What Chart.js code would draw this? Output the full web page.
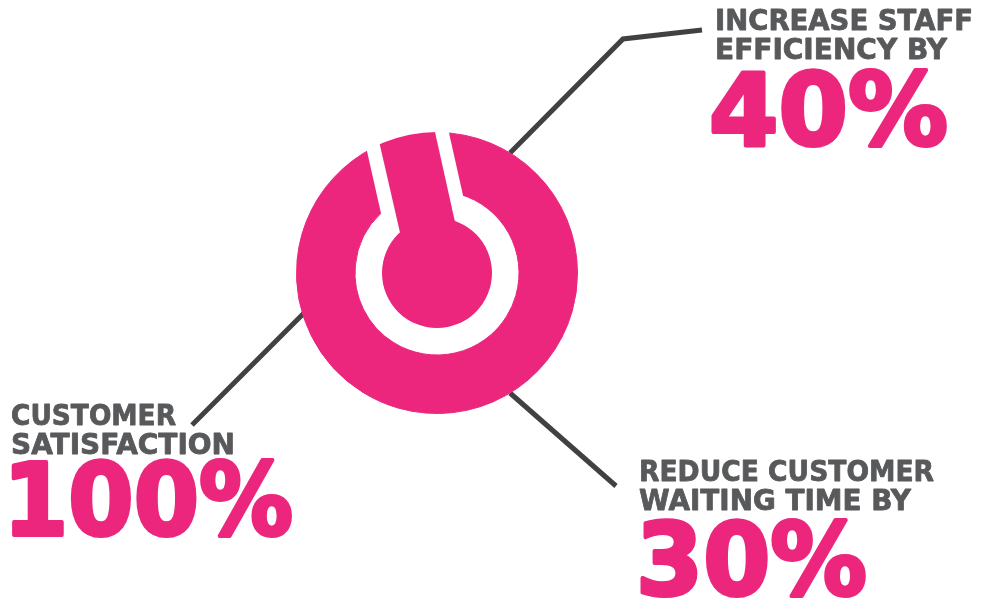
<!DOCTYPE html>
<html><head><meta charset="utf-8">
<style>html,body{margin:0;padding:0;background:#fff;width:984px;height:600px;overflow:hidden}#w{position:relative;width:984px;height:600px}canvas{position:absolute;left:0;top:0}</style>
<script src="https://cdn.jsdelivr.net/npm/chart.js@4"></script></head>
<body><div id="w"><canvas id="c" width="984" height="600"></canvas></div>
<script>
const categories=["Customer satisfaction","Reduce customer waiting time","Increase staff efficiency"];
const values=[100,30,40];
const captions=[["CUSTOMER","SATISFACTION"],["REDUCE CUSTOMER","WAITING TIME BY"],["INCREASE STAFF","EFFICIENCY BY"]];
const bigLabels=["100%","30%","40%"];
const PINK="#ec267d",GREY="#58595b",LINE="#414042";
const capAnchors=[[11,425,165,454,224],[639,481,295,510,272],[715,30,258,59,239]];
const bigAnchors=[[3,535,290],[636,595,231],[709,145,239]];
const leaders=[[[304,313],[192,425]],[[510,393],[616,486]],[[510,153],[623,39],[702,30]]];
const centre=[437,273];
const stem=[[404,250],[376,128],[431,114],[459,240]];
const gap=[[360,120],[387,240],[473,240],[445,115]];
function poly(x,p){x.beginPath();p.forEach((q,i)=>i?x.lineTo(q[0],q[1]):x.moveTo(q[0],q[1]));x.closePath();}
const overlay={id:'overlay',
 beforeDatasetsDraw(ch){const x=ch.ctx;x.save();x.strokeStyle=LINE;x.lineWidth=5;x.lineJoin='miter';
  leaders.forEach(l=>{x.beginPath();l.forEach((p,i)=>i?x.lineTo(p[0],p[1]):x.moveTo(p[0],p[1]));x.stroke();});x.restore();},
 afterDatasetsDraw(ch){const x=ch.ctx;x.save();
  x.fillStyle='#fff';poly(x,gap);x.fill();
  x.save();x.beginPath();x.arc(centre[0],centre[1],141,0,7);x.clip();
  x.fillStyle=PINK;poly(x,stem);x.fill();x.restore();
  x.fillStyle=PINK;x.beginPath();x.arc(centre[0],centre[1],55,0,7);x.fill();
  x.lineJoin='round';
  captions.forEach((c,i)=>{x.fillStyle=GREY;x.strokeStyle=GREY;x.lineWidth=.8;x.font='bold 28px "DejaVu Sans"';const a=capAnchors[i];
    x.fillText(c[0],a[0],a[1],a[2]);x.strokeText(c[0],a[0],a[1],a[2]);
    x.fillText(c[1],a[0],a[3],a[4]);x.strokeText(c[1],a[0],a[3],a[4]);});
  bigLabels.forEach((t,i)=>{x.fillStyle=PINK;x.strokeStyle=PINK;x.lineWidth=4;x.font='bold 100px "DejaVu Sans"';const a=bigAnchors[i];
    x.fillText(t,a[0],a[1],a[2]);x.strokeText(t,a[0],a[1],a[2]);});
  x.restore();}};
new Chart(document.getElementById('c'),{type:'doughnut',
 data:{labels:categories,datasets:[{data:values,backgroundColor:PINK,borderColor:PINK,borderWidth:1}]},
 options:{responsive:false,animation:false,cutout:82,radius:140.5,
  layout:{padding:{left:437-141,top:273-141,right:984-437-141,bottom:600-273-141}},
  plugins:{legend:{display:false},tooltip:{enabled:false}}},
 plugins:[overlay]});
</script></body></html>
